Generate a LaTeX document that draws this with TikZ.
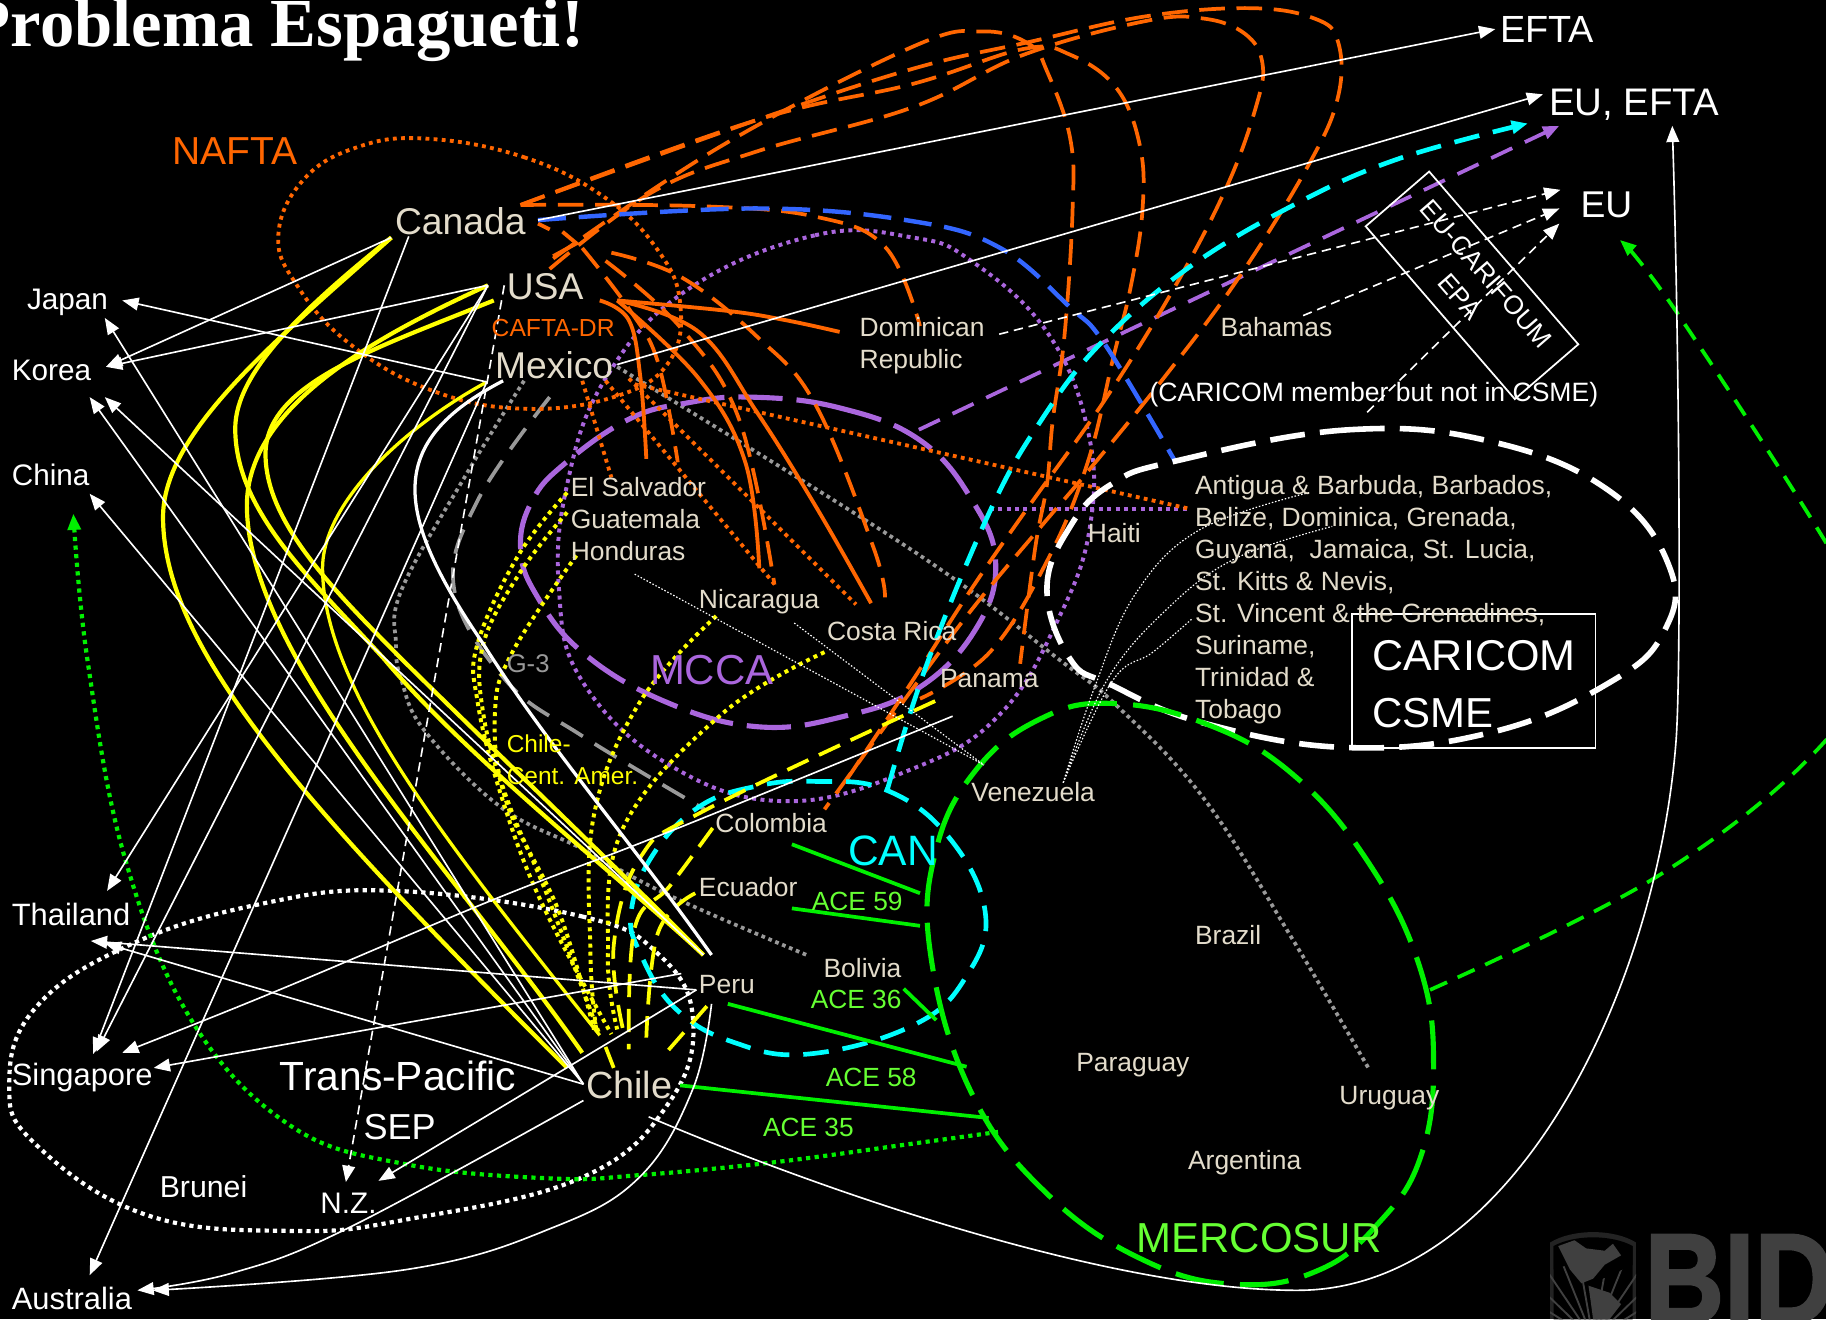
\documentclass[tikz,border=0pt]{standalone}
\usepackage{fontspec}
\setmainfont{Liberation Sans}
\newfontfamily\titlefont{Liberation Serif}
\newfontfamily\bidfont[FakeBold=2]{Liberation Sans Bold}
\usetikzlibrary{arrows.meta}
\definecolor{beige}{HTML}{E3DCCB}
\definecolor{oran}{HTML}{FF6600}
\definecolor{purp}{HTML}{AA66DD}
\definecolor{blu}{HTML}{3366FF}
\definecolor{cyn}{HTML}{00FFFF}
\definecolor{grn}{HTML}{00F000}
\definecolor{lgrn}{HTML}{66FF33}
\definecolor{yel}{HTML}{FFFF00}
\definecolor{gry}{HTML}{999999}
\definecolor{logo}{HTML}{404040}
\tikzset{
 lab/.style={anchor=west,inner sep=0pt,text=beige,align=left},
 fs/.style={font=\fontsize{#1}{#1}\selectfont},
 tip/.style={-{Triangle[width=11pt,length=14pt]}},
 curve/.style={smooth,tension=0.65},
 wthin/.style={draw=white,line width=1.4pt},
 wwide/.style={draw=white,line width=2.8pt},
 wdash/.style={draw=white,line width=1.4pt,dash pattern=on 8pt off 5pt},
 wfine/.style={draw=white,line width=1pt,dash pattern=on 1.3pt off 1.6pt},
 wdot/.style={draw=white,line width=3.6pt,dash pattern=on 3.6pt off 3.6pt},
 odash/.style={draw=oran,line width=3.2pt,dash pattern=on 22pt off 10pt},
 osolid/.style={draw=oran,line width=3.3pt},
 odot/.style={draw=oran,line width=3.3pt,dash pattern=on 3.3pt off 3.7pt},
 ydot/.style={draw=yel,line width=3.4pt,dash pattern=on 3.4pt off 3.6pt},
 ydash/.style={draw=yel,line width=3.2pt,dash pattern=on 20pt off 10pt},
 ysolid/.style={draw=yel,line width=3.6pt},
 gdot/.style={draw=gry,line width=3.2pt,dash pattern=on 3.2pt off 3.2pt},
 gdash/.style={draw=gry,line width=3.2pt,dash pattern=on 22pt off 12pt},
 pdot/.style={draw=purp,line width=3.4pt,dash pattern=on 3.4pt off 3.8pt},
 pdash/.style={draw=purp,line width=3.2pt,dash pattern=on 20pt off 12pt},
 plong/.style={draw=purp,line width=4.4pt,dash pattern=on 38pt off 12pt},
 cdash/.style={draw=cyn,line width=4pt,dash pattern=on 22pt off 12pt},
 gnlong/.style={draw=grn,line width=4.4pt,dash pattern=on 42pt off 14pt},
 gndash/.style={draw=grn,line width=3.2pt,dash pattern=on 16pt off 10pt},
 gndot/.style={draw=grn,line width=3.6pt,dash pattern=on 3.6pt off 3.8pt},
 gnsolid/.style={draw=grn,line width=3.2pt},
 wlong/.style={draw=white,line width=4.8pt,dash pattern=on 30pt off 13pt},
 bdash/.style={draw=blu,line width=3.8pt,dash pattern=on 24pt off 11pt},
}
\begin{document}
\begin{tikzpicture}[x=1pt,y=-1pt]
\useasboundingbox (0,0) rectangle (1568,1133);
\fill[black] (0,0) rectangle (1568,1133);
\begin{scope}
\clip (0,0) rectangle (1568,1133);
% ---- hub coordinates
\coordinate (canA) at (336,204);
\coordinate (canB) at (351,203);
\coordinate (canE) at (462,189);
\coordinate (canO) at (447,176);
\coordinate (usaA) at (419,245);
\coordinate (usaB) at (424,258);
\coordinate (usaC) at (433,245);
\coordinate (usaO) at (530,258);
\coordinate (mexA) at (418,328);
\coordinate (mexB) at (432,327);
\coordinate (mexE) at (530,313);
\coordinate (mexD) at (545,330);
\coordinate (chiA) at (501,931);
\coordinate (chiB) at (501,945);
\coordinate (chiC) at (557,959);
\coordinate (chiY) at (515,889);
\coordinate (perA) at (598,850);
\coordinate (perB) at (585,836);
\coordinate (perC) at (611,862);
\coordinate (perY) at (604,820);
\coordinate (perW) at (611,820);
\coordinate (japT) at (105,258);
\coordinate (japS) at (90,273);
\coordinate (korE) at (91,315);
\coordinate (korS) at (77,341);
\coordinate (korT) at (90,341);
\coordinate (chnS) at (77,424);
\coordinate (chnG) at (63,441);
\coordinate (thaN) at (92,765);
\coordinate (thaE) at (78,808);
\coordinate (thaF) at (90,810);
\coordinate (sinN) at (80,905);
\coordinate (sinM) at (83,903);
\coordinate (sinE) at (105,904);
\coordinate (sinF) at (132,917);
\coordinate (nzL) at (297,1015);
\coordinate (nzR) at (325,1014);
\coordinate (ausN) at (77,1095);
\coordinate (ausE) at (118,1108);
\coordinate (ausF) at (131,1108);
\coordinate (eftaT) at (1284,25);
\coordinate (eeT) at (1325,81);
\coordinate (eeC) at (1312,106);
\coordinate (eeP) at (1339,108);
\coordinate (eeS) at (1436,108);
\coordinate (euA) at (1340,163);
\coordinate (euB) at (1339,179);
\coordinate (euC) at (1339,192);
\coordinate (euG) at (1391,206);
\coordinate (drW) at (721,285);
\coordinate (drD) at (858,287);
\coordinate (bahS) at (1119,271);
\coordinate (carN) at (1174,354);
\coordinate (belW) at (1022,437);
\coordinate (urN) at (1175,917);
\coordinate (bolN) at (695,821);
\coordinate (venN) at (913,672);
\coordinate (venW) at (845,657);
\coordinate (colE) at (818,615);
% ---- gray
\draw[gdot] plot[curve] coordinates {(530,315) (784,473) (909,566) (959,606) (1034,686) (1109,805) (urN)};
\draw[gdot] plot[curve] coordinates {(450,327) (400,408) (345,506) (340,553) (345,585) (365,628) (430,693) (500,729) (575,769) (bolN)};
\draw[gdash] plot[curve] coordinates {(472,341) (410,430) (390,506) (435,585) (500,632) (605,695)};
% ---- Trans-Pacific
\draw[wdot] plot[smooth cycle,tension=0.7] coordinates {(340,765) (500,787) (565,819) (595,874) (575,946) (500,1011) (350,1047) (250,1057) (125,1043) (30,982) (8,931) (30,866) (110,812) (225,776)};
% ---- purple
\draw[pdot] plot[smooth cycle,tension=0.7] coordinates {(590,249) (700,202) (784,204) (834,224) (899,285) (934,369) (936,452) (909,531) (859,613) (784,660) (675,688) (575,657) (500,585) (480,506) (487,416) (520,325)};
\draw[plong] plot[smooth cycle,tension=0.7] coordinates {(645,341) (720,350) (790,378) (835,430) (855,484) (838,540) (790,590) (725,615) (650,624) (570,602) (500,560) (460,510) (447,470) (457,430) (485,398) (540,360) (590,346)};
\draw[pdash,tip] (789,369) -- (eeP);
\draw[pdot] (850,437) -- (belW);
% ---- orange ellipse, dotted lines
\draw[odot] plot[smooth cycle,tension=0.7] coordinates {(365,119) (450,135) (520,170) (565,215) (584,260) (575,310) (530,340) (450,351) (370,335) (300,295) (255,245) (239,202) (260,155) (305,127)};
\draw[odot] (500,327) -- (525,410);
\draw[odot] (520,327) -- (667,504);
\draw[odot] (540,325) -- (735,519);
\draw[odot] (mexD) -- (belW);
% ---- orange dashed loops
\draw[odash] plot[curve] coordinates {(475,222) (620,125) (784,40) (844,27) (884,38) (899,61) (919,119) (921,181) (914,289) (904,361) (899,416) (889,470) (876,570)};
\draw[odash] plot[curve] coordinates {(canO) (650,103) (784,72) (879,42) (919,47) (959,76) (979,126) (981,181) (971,246) (956,307) (934,397) (900,480) (850,560) (790,600)};
\draw[odash] plot[curve] coordinates {(472,231) (560,165) (650,130) (784,92) (879,47) (984,18) (1034,16) (1069,29) (1084,54) (1079,90) (1054,159) (1009,246) (949,343) (884,434) (834,506) (780,590) (720,680)};
\draw[odash] plot[curve] coordinates {(canO) (650,103) (784,59) (884,36) (984,14) (1074,7) (1129,16) (1149,36) (1149,83) (1124,141) (1064,238) (999,325) (934,405) (894,452) (834,524) (770,610) (708,695)};
\draw[odash] plot[curve] coordinates {(canO) (600,177) (700,186) (760,212) (790,280)};
\draw[odash] plot[curve] coordinates {(500,213) (540,265) (565,311) (582,397)};
\draw[odash] plot[curve] coordinates {(520,224) (585,282) (635,361) (665,502)};
\draw[odash] plot[curve] coordinates {(525,217) (585,238) (650,289) (700,347) (750,470) (760,513)};
\draw[osolid] (462,192) -- (472,197);
\draw[osolid] (483,199) -- (495,209) -- (475,220);
% ---- orange solid
\draw[osolid] plot[curve] coordinates {(515,258) (540,275) (550,325) (555,394)};
\draw[osolid] plot[curve] coordinates {(usaO) (600,325) (640,397) (652,488)};
\draw[osolid] plot[curve] coordinates {(usaO) (600,285) (650,354) (700,434) (748,518)};
\draw[osolid] plot[curve] coordinates {(usaO) (625,267) (675,275) (drW)};
% ---- blue
\draw[bdash] plot[curve] coordinates {(canE) (650,179) (784,190) (859,213) (919,264) (949,296) (1009,396)};
% ---- cyan
\draw[cdash] plot[smooth cycle,tension=0.7] coordinates {(700,671) (760,678) (814,718) (846,783) (830,838) (785,880) (695,905) (630,895) (580,866) (550,819) (542,783) (560,735) (600,693) (650,675)};
\draw[cdash,tip] plot[curve] coordinates {(762,678) (796,570) (851,437) (894,361) (944,296) (1019,231) (1109,177) (1199,137) (eeC)};
% ---- CARICOM and MERCOSUR
\draw[wlong] plot[smooth cycle,tension=0.7] coordinates {(1009,396) (1159,369) (1284,380) (1384,423) (1434,488) (1429,542) (1384,585) (1284,628) (1159,642) (1034,621) (954,588) (919,566) (899,506) (919,452) (954,416)};
\draw[gnlong] plot[smooth cycle,tension=0.7] coordinates {(954,604) (1034,621) (1109,664) (1174,739) (1219,830) (1231,917) (1219,996) (1184,1050) (1134,1090) (1064,1103) (984,1083) (899,1025) (834,938) (799,819) (804,729) (839,660) (894,617)};
\draw[gndash,tip] plot[curve] coordinates {(1228,850) (1424,752) (1564,640) (1610,550) (1568,466) (1439,267) (euG)};
\draw[gndot,tip] plot[curve] coordinates {(857,972) (784,982) (665,998) (550,1009) (475,1012) (350,1000) (250,967) (165,877) (107,736) (75,566) (chnG)};
% ---- ACE
\draw[gnsolid] (680,725) -- (790,767);
\draw[gnsolid] (680,780) -- (790,795);
\draw[gnsolid] (776,849) -- (804,876);
\draw[gnsolid] (625,862) -- (830,916);
\draw[gnsolid] (584,932) -- (849,960);
% ---- yellow dotted
\draw[ydot] plot[curve] coordinates {(487,423) (445,477) (410,553) (410,602) (430,682) (465,775) (525,888)};
\draw[ydot] plot[curve] coordinates {(487,440) (447,491) (415,553) (415,613) (435,685) (470,769) (chiY)};
\draw[ydot] plot[curve] coordinates {(495,477) (440,560) (425,613) (435,689) (480,783) (510,884)};
\draw[ydot] plot[curve] coordinates {(615,529) (550,602) (510,700) (507,819) (512,884)};
\draw[ydot] plot[curve] coordinates {(708,560) (620,613) (535,711) (522,819) (530,884)};
% ---- yellow dashed
\draw[ydash] plot[curve] coordinates {(803,602) (605,696) (550,736) (527,812) (535,884)};
\draw[ydash] plot[curve] coordinates {(612,711) (575,761) (545,797) (540,901)};
\draw[ydash] plot[curve] coordinates {(597,767) (565,801) (555,891)};
\draw[ydash] (607,864) -- (572,904);
\draw[ydash] (520,899) -- (527,917);
% ---- yellow solid
\draw[ysolid] (canA) .. controls (240,290) and (140,370) .. (140,444) .. controls (140,560) and (270,700) .. (487,917);
\draw[ysolid] (canA) .. controls (260,265) and (202,320) .. (202,368) .. controls (202,440) and (270,500) .. (330,566) .. controls (400,650) and (540,760) .. (perY);
\draw[ysolid] (usaA) .. controls (320,290) and (212,350) .. (212,434) .. controls (212,480) and (235,530) .. (255,566) .. controls (320,680) and (420,790) .. (500,904);
\draw[ysolid] (usaB) .. controls (320,300) and (228,330) .. (228,390) .. controls (228,450) and (290,510) .. (345,566) .. controls (430,650) and (540,755) .. (perY);
\draw[ysolid,line width=2.8pt] (mexA) .. controls (350,365) and (277,430) .. (277,488) .. controls (277,590) and (380,720) .. (chiY);
% ---- white arrows
\draw[wthin,tip] (canA) -- (korE);
\draw[wthin,tip] (usaA) -- (korE);
\draw[wthin,tip] (mexA) -- (japT);
\draw[wthin,tip] (chiA) -- (japS);
\draw[wthin,tip] (chiA) -- (korS);
\draw[wthin,tip] (perY) -- (korT);
\draw[wthin,tip] (chiA) -- (chnS);
\draw[wthin,tip] (usaA) -- (thaN);
\draw[wthin,tip] (canB) -- (sinN);
\draw[wthin,tip] (usaA) -- (sinM);
\draw[wthin,tip] (mexA) -- (ausN);
\draw[wthin,tip] (canE) -- (eftaT);
\draw[wthin,tip] (mexE) -- (eeT);
\draw[wdash,tip] (usaC) -- (nzL);
\draw[wdash,tip] (drD) -- (euA);
\draw[wdash,tip] (bahS) -- (euB);
\draw[wdash,tip] (carN) -- (euC);
\draw[wwide] (mexB) .. controls (330,380) and (338,440) .. (415,553) .. controls (470,640) and (540,720) .. (perW);
\draw[wthin,tip] (perA) -- (thaE);
\draw[wthin,tip] (chiA) -- (thaF);
\draw[wthin,tip] (perB) -- (sinF);
\draw[wthin,tip] (perA) -- (nzR);
\draw[wthin,tip] plot[curve] coordinates {(colE) (575,714) (425,772) (235,852) (sinE)};
\draw[wthin,tip] plot[curve] coordinates {(chiB) (300,1054) (200,1093) (ausE)};
\draw[wthin,tip] plot[curve] coordinates {(perC) (595,935) (550,1010) (475,1054) (350,1090) (ausF)};
\draw[wthin,tip] (chiC) .. controls (700,1020) and (950,1108) .. (1114,1108) .. controls (1300,1108) and (1422,850) .. (1439,639) .. controls (1444,580) and (1442,300) .. (eeS);
% ---- fine dotted
\draw[wfine] plot[curve] coordinates {(venN) (940,590) (975,510) (1030,455) (1124,423)};
\draw[wfine] plot[curve] coordinates {(venN) (950,585) (1000,525) (1060,480) (1144,452)};
\draw[wfine] plot[curve] coordinates {(venN) (955,585) (990,560) (1024,531)};
\draw[wfine] (545,493) -- (venW);
\draw[wfine] (682,535) -- (venW);
% ---- EPA box and CSME box
\node[draw=white,line width=1.5pt,minimum width=196pt,minimum height=72pt,rotate=-49.2,inner sep=0pt] (epa) at (1264,245) {};
\node[draw=white,line width=1.5pt,minimum width=209pt,minimum height=115pt,inner sep=0pt] (csme) at (1265.5,584.5) {};
% ---- logo
\begin{scope}
\path[clip] (1331,1067) .. controls (1350,1055) and (1386,1055) .. (1405,1067) -- (1405,1133) -- (1331,1133) -- cycle;
\fill[logo!55!black] (1331,1050) rectangle (1405,1133);
\fill[black] (1334,1070) .. controls (1352,1060) and (1384,1060) .. (1402,1070) -- (1402,1133) -- (1334,1133) -- cycle;
\foreach \a in {100,112,...,172,8,20,...,80} {\draw[logo,line width=1.6pt] (1368,1150) -- ++({-\a}:-80pt);}
\fill[black] (1334,1070) -- (1402,1070) -- (1402,1086) -- (1372,1100) -- (1350,1085) -- (1334,1090) -- cycle;
\fill[logo] (1338,1070) -- (1352,1065) -- (1362,1072) -- (1378,1074) -- (1385,1068) -- (1392,1078) -- (1378,1086) -- (1368,1098) -- (1358,1102) -- (1348,1090) -- cycle;
\fill[logo] (1364,1104) -- (1382,1110) -- (1392,1120) -- (1382,1133) -- (1368,1133) -- (1366,1118) -- cycle;
\end{scope}
\node[anchor=base west,inner sep=0pt,text=logo,xscale=0.86] (bid) at (1412,1136) {\fontsize{110}{110}\bidfont BID};
\end{scope}
% ---- labels
\node[anchor=base west,inner sep=0pt,text=white] (title) at (-27,40) {\fontsize{59}{60}\titlefont\bfseries Problema Espagueti!};
\node[lab,fs=33.5,text=oran] (nafta) at (148,130) {NAFTA};
\node[lab,fs=32] (canada) at (339,190) {Canada};
\node[lab,fs=32] (usa) at (435,246) {USA};
\node[lab,fs=21.2,text=oran] (cafta) at (422,282) {CAFTA-DR};
\node[lab,fs=32] (mexico) at (425,314) {Mexico};
\node[lab,fs=25.5,text=white] (japan) at (23,260) {Japan};
\node[lab,fs=25.5,text=white] (korea) at (10,318) {Korea};
\node[lab,fs=25.5,text=white] (china) at (10,408) {China};
\node[lab,fs=26.5,text=white] (thailand) at (10,785) {Thailand};
\node[lab,fs=26.5,text=white] (singapore) at (10,925) {Singapore};
\node[lab,fs=26,text=white] (brunei) at (137,1019) {Brunei};
\node[lab,fs=25.5,text=white] (nz) at (275,1033) {N.Z.};
\node[lab,fs=26.5,text=white] (australia) at (10,1115) {Australia};
\node[lab,fs=35,text=white] (tp) at (240,924) {Trans-Pacific};
\node[lab,fs=31,text=white] (sep) at (312,968) {SEP};
\node[lab,fs=32.5] (chile) at (503,932) {Chile};
\node[lab,fs=22.7] (peru) at (600,845) {Peru};
\node[lab,fs=22.7] (bolivia) at (707,831) {Bolivia};
\node[lab,fs=22.7] (ecuador) at (600,762) {Ecuador};
\node[lab,fs=22.7] (colombia) at (614,707) {Colombia};
\node[lab,fs=22.7] (venezuela) at (834,680) {Venezuela};
\node[lab,fs=22.7] (panama) at (807,583) {Panama};
\node[lab,fs=22.7] (costa) at (710,542) {Costa Rica};
\node[lab,fs=22.7] (nica) at (600,517) {Nicaragua};
\node[lab,font=\fontsize{22.7}{27.4}\selectfont] (elsal) at (490,446) {El Salvador\\Guatemala\\Honduras};
\node[lab,font=\fontsize{22.7}{27.6}\selectfont] (dr) at (738,297) {Dominican\\Republic};
\node[lab,fs=22.7] (bahamas) at (1048,281) {Bahamas};
\node[lab,fs=22.7] (haiti) at (934,458) {Haiti};
\node[lab,fs=22.8,text=white] (cnot) at (987,339) {(CARICOM member but not in CSME)};
\node[lab,font=\fontsize{22.7}{27.45}\selectfont] (caribe) at (1026,515) {Antigua \& Barbuda, Barbados,\\Belize, Dominica, Grenada,\\Guyana,~ Jamaica, St. Lucia,\\St. Kitts \& Nevis,\\St. Vincent \& the Grenadines,\\Suriname,\\Trinidad \&\\Tobago};
\node[lab,fs=22.7] (brazil) at (1026,803) {Brazil};
\node[lab,fs=22.7] (paraguay) at (924,915) {Paraguay};
\node[lab,fs=22.7] (uruguay) at (1150,943) {Uruguay};
\node[lab,fs=22.7] (argentina) at (1020,998) {Argentina};
\node[lab,fs=36,text=lgrn] (mercosur) at (976,1063) {MERCOSUR};
\node[lab,fs=36,text=purp] (mcca) at (558,575) {MCCA};
\node[lab,fs=36.5,text=cyn] (can) at (728,731) {CAN};
\node[lab,fs=22,text=gry] (g3) at (435,570) {G-3};
\node[lab,font=\fontsize{21}{27.3}\selectfont,text=yel] (chca) at (435,652.5) {Chile-\\Cent. Amer.};
\node[lab,fs=22.6,text=lgrn] (a59) at (697,774) {ACE 59};
\node[lab,fs=22.6,text=lgrn] (a36) at (696,858) {ACE 36};
\node[lab,fs=22.6,text=lgrn] (a58) at (709,925) {ACE 58};
\node[lab,fs=22.6,text=lgrn] (a35) at (655,968) {ACE 35};
\node[lab,fs=37,text=white] (caricom) at (1178,563) {CARICOM};
\node[lab,fs=36,text=white] (csmet) at (1178,612) {CSME};
\node[lab,fs=32.5,text=white] (efta) at (1288,25) {EFTA};
\node[lab,fs=33,text=white] (euefta) at (1330,90) {EU, EFTA};
\node[lab,fs=32,text=white] (eu) at (1357,176) {EU};
\node[inner sep=0pt,rotate=-49,align=center,text=white,font=\fontsize{22.6}{30}\selectfont] (epat) at (1265,245) {EU-CARIFOUM\\EPA};
\end{tikzpicture}
\end{document}
